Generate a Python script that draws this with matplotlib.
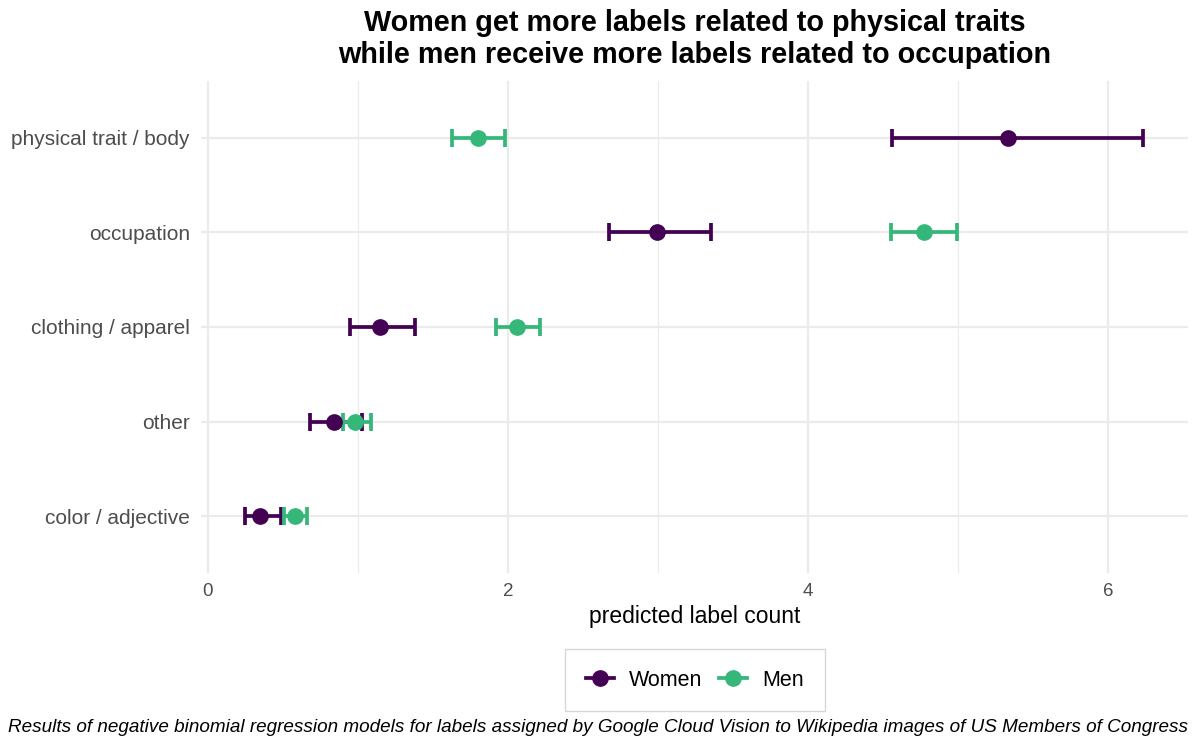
import matplotlib
matplotlib.use("Agg")
import matplotlib.pyplot as plt
from matplotlib.lines import Line2D
from matplotlib.ticker import MultipleLocator

plt.rcParams['font.family'] = ['Liberation Sans', 'DejaVu Sans']

categories = ["physical trait / body", "occupation", "clothing / apparel", "other", "color / adjective"]
women_est = [5.33, 2.99, 1.15, 0.84, 0.35]
women_lo = [4.56, 2.67, 0.95, 0.68, 0.25]
women_hi = [6.23, 3.35, 1.38, 1.03, 0.49]
men_est = [1.80, 4.77, 2.06, 0.98, 0.58]
men_lo = [1.63, 4.55, 1.92, 0.90, 0.51]
men_hi = [1.98, 4.99, 2.21, 1.09, 0.66]
x_ticks = [0, 2, 4, 6]

c_women = "#440154"
c_men = "#35B779"

fig = plt.figure(figsize=(12, 7.5), dpi=100)
ax = fig.add_axes([201/1200, 1-573/750, (1188-201)/1200, (573-81)/750])

n = len(categories)
ypos = list(range(n))[::-1]

for est, lo, hi, col in [(women_est, women_lo, women_hi, c_women), (men_est, men_lo, men_hi, c_men)]:
    xerr = [[e - l for e, l in zip(est, lo)], [h - e for e, h in zip(est, hi)]]
    ax.errorbar(est, ypos, xerr=xerr, fmt='o', color=col, ecolor=col, elinewidth=2.7,
                capsize=6.5, capthick=2.7, markersize=11, zorder=3)

ax.set_yticks(ypos)
ax.set_yticklabels(categories)
ax.set_xticks(x_ticks)
ax.set_xticklabels([str(t) for t in x_ticks])
ax.xaxis.set_minor_locator(MultipleLocator(1))
ax.set_xlim(-0.045, 6.53)
ax.set_ylim(-0.6, n - 1 + 0.6)

for s in ax.spines.values():
    s.set_visible(False)
ax.tick_params(axis='y', which='both', length=0, labelsize=15, labelcolor='#4D4D4D', pad=8)
ax.tick_params(axis='x', which='both', length=0, labelsize=13.5, labelcolor='#4D4D4D', pad=7)
ax.grid(True, which='major', axis='both', color='#EBEBEB', linewidth=1.6, zorder=0)
ax.grid(True, which='minor', axis='x', color='#EBEBEB', linewidth=0.8, zorder=0)
ax.set_axisbelow(True)

ax.set_xlabel("predicted label count", fontsize=16.5, color='black', labelpad=4)
ax.set_title("Women get more labels related to physical traits\nwhile men receive more labels related to occupation",
             fontsize=20.7, fontweight='bold', pad=13, linespacing=1.2)

handles = [Line2D([0], [0], color=c_women, marker='o', markersize=11, linewidth=2.7),
           Line2D([0], [0], color=c_men, marker='o', markersize=11, linewidth=2.7)]
leg = fig.legend(handles, ["Women", "Men"], loc='center', bbox_to_anchor=(695/1200, 1-680/750),
                 ncol=2, frameon=True, fontsize=15.5, handlelength=1.3, columnspacing=0.8,
                 handletextpad=0.7, borderpad=0.95, fancybox=False)
leg.get_frame().set_edgecolor('#CCCCCC')
leg.get_frame().set_linewidth(1.0)

fig.text(1188/1200, 1-727/750, "Results of negative binomial regression models for labels assigned by Google Cloud Vision to Wikipedia images of US Members of Congress",
         ha='right', va='center', fontsize=13.6, style='italic')

fig.savefig("out.png", dpi=100, facecolor='white')
